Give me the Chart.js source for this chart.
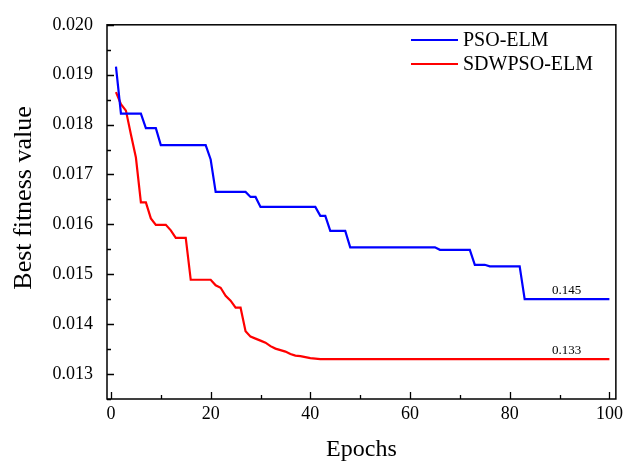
<!DOCTYPE html>
<html lang="en">
  <head>
    <meta charset="UTF-8">
    <title>Best fitness value vs Epochs</title>
    <script src="https://cdn.jsdelivr.net/npm/chart.js@4.4.7/dist/chart.umd.min.js"></script>
    <style>
    html, body {
      margin: 0;
      padding: 0;
      background: #fff;
    }
    #wrap {
      width: 627px;
      height: 463px;
    }
    </style>
  </head>
  <body>
    <div id="wrap"><canvas id="fitChart" width="627" height="463"></canvas></div>
    <script>
    // epochs 1..100
    const epochs = [];
    for (let i = 1; i <= 100; i++) epochs.push(i);

    const psoElm = [
      0.01916, 0.01822, 0.01822, 0.01822, 0.01822, 0.01822, 0.01793, 0.01793, 0.01793, 0.01759,
      0.01759, 0.01759, 0.01759, 0.01759, 0.01759, 0.01759, 0.01759, 0.01759, 0.01759, 0.01730,
      0.01665, 0.01665, 0.01665, 0.01665, 0.01665, 0.01665, 0.01665, 0.01655, 0.01655, 0.01635,
      0.01635, 0.01635, 0.01635, 0.01635, 0.01635, 0.01635, 0.01635, 0.01635, 0.01635, 0.01635,
      0.01635, 0.01617, 0.01617, 0.01587, 0.01587, 0.01587, 0.01587, 0.01554, 0.01554, 0.01554,
      0.01554, 0.01554, 0.01554, 0.01554, 0.01554, 0.01554, 0.01554, 0.01554, 0.01554, 0.01554,
      0.01554, 0.01554, 0.01554, 0.01554, 0.01554, 0.01549, 0.01549, 0.01549, 0.01549, 0.01549,
      0.01549, 0.01549, 0.01519, 0.01519, 0.01519, 0.01516, 0.01516, 0.01516, 0.01516, 0.01516,
      0.01516, 0.01516, 0.01450, 0.01450, 0.01450, 0.01450, 0.01450, 0.01450, 0.01450, 0.01450,
      0.01450, 0.01450, 0.01450, 0.01450, 0.01450, 0.01450, 0.01450, 0.01450, 0.01450, 0.01450
    ];

    const sdwpsoElm = [
      0.01865, 0.01841, 0.01828, 0.01780, 0.01734, 0.01644, 0.01644, 0.01612, 0.01599, 0.01599,
      0.01599, 0.01588, 0.01573, 0.01573, 0.01573, 0.01489, 0.01489, 0.01489, 0.01489, 0.01489,
      0.01478, 0.01473, 0.01457, 0.01447, 0.01433, 0.01433, 0.01386, 0.01375, 0.01371, 0.01367,
      0.01363, 0.01356, 0.01351, 0.01348, 0.01345, 0.01340, 0.01337, 0.01336, 0.01334, 0.01332,
      0.01331, 0.01330, 0.01330, 0.01330, 0.01330, 0.01330, 0.01330, 0.01330, 0.01330, 0.01330,
      0.01330, 0.01330, 0.01330, 0.01330, 0.01330, 0.01330, 0.01330, 0.01330, 0.01330, 0.01330,
      0.01330, 0.01330, 0.01330, 0.01330, 0.01330, 0.01330, 0.01330, 0.01330, 0.01330, 0.01330,
      0.01330, 0.01330, 0.01330, 0.01330, 0.01330, 0.01330, 0.01330, 0.01330, 0.01330, 0.01330,
      0.01330, 0.01330, 0.01330, 0.01330, 0.01330, 0.01330, 0.01330, 0.01330, 0.01330, 0.01330,
      0.01330, 0.01330, 0.01330, 0.01330, 0.01330, 0.01330, 0.01330, 0.01330, 0.01330, 0.01330
    ];

    const seriesNames = ['PSO-ELM', 'SDWPSO-ELM'];
    const endLabels = ['0.145', '0.133'];
    const endLabelEpoch = 91.4;
    const yTitle = 'Best fitness value';

    const serif = "'Liberation Serif', 'Times New Roman', serif";

    function isMajorY(v) {
      return Math.round(v * 2000) % 2 === 0;
    }

    // box, inward ticks, y title, legend and end labels
    const decorations = {
      id: 'decorations',
      afterDatasetsDraw(chart) {
        const { ctx, chartArea: a, scales: { x, y } } = chart;
        ctx.save();
        ctx.strokeStyle = '#000';
        ctx.lineWidth = 1.5;
        ctx.strokeRect(a.left, a.top, a.right - a.left, a.bottom - a.top);

        ctx.lineWidth = 1.3;
        ctx.beginPath();
        x.ticks.forEach((t) => {
          const px = Math.round(x.getPixelForValue(t.value)) + 0.5;
          const len = t.value % 20 === 0 ? 7 : 4;
          ctx.moveTo(px, a.bottom);
          ctx.lineTo(px, a.bottom - len);
        });
        y.ticks.forEach((t) => {
          const py = Math.round(y.getPixelForValue(t.value)) + 0.5;
          const len = isMajorY(t.value) ? 7 : 4;
          ctx.moveTo(a.left, py);
          ctx.lineTo(a.left + len, py);
        });
        ctx.stroke();

        // y axis title, sits a bit above the middle like the original
        ctx.fillStyle = '#000';
        ctx.font = '26px ' + serif;
        ctx.textAlign = 'center';
        ctx.textBaseline = 'middle';
        ctx.save();
        ctx.translate(24, 198);
        ctx.rotate(-Math.PI / 2);
        ctx.fillText(yTitle, 0, 0);
        ctx.restore();

        // legend
        ctx.font = '20px ' + serif;
        ctx.textBaseline = 'middle';
        ctx.textAlign = 'left';
        chart.data.datasets.forEach((ds, i) => {
          const ly = 40 + i * 24;
          ctx.strokeStyle = ds.borderColor;
          ctx.lineWidth = 2;
          ctx.beginPath();
          ctx.moveTo(411, ly);
          ctx.lineTo(458, ly);
          ctx.stroke();
          ctx.fillStyle = '#000';
          ctx.fillText(ds.label, 463, ly + 1);
        });

        // final value labels
        ctx.font = '13px ' + serif;
        ctx.textAlign = 'center';
        ctx.textBaseline = 'alphabetic';
        chart.data.datasets.forEach((ds, i) => {
          const last = ds.data[ds.data.length - 1];
          ctx.fillText(endLabels[i], x.getPixelForValue(endLabelEpoch), y.getPixelForValue(last) - 5);
        });
        ctx.restore();
      }
    };

    const ctx = document.getElementById('fitChart').getContext('2d');
    const fitChart = new Chart(ctx, {
      type: 'line',
      data: {
        labels: epochs,
        datasets: [
          {
            label: seriesNames[0],
            data: psoElm,
            borderColor: '#0000ff',
            borderWidth: 2.2,
            pointRadius: 0,
            tension: 0,
            fill: false
          },
          {
            label: seriesNames[1],
            data: sdwpsoElm,
            borderColor: '#ff0000',
            borderWidth: 2.2,
            pointRadius: 0,
            tension: 0,
            fill: false
          }
        ]
      },
      options: {
        responsive: false,
        animation: false,
        layout: {
          padding: { top: 18, right: 9, left: 0, bottom: 0 }
        },
        plugins: {
          legend: { display: false },
          tooltip: { enabled: false }
        },
        scales: {
          x: {
            type: 'linear',
            min: -0.8,
            max: 101.3,
            grid: { display: false, drawTicks: false },
            border: { display: false },
            ticks: {
              stepSize: 10,
              includeBounds: false,
              padding: 4,
              color: '#000',
              font: { family: serif, size: 18 },
              callback: (v) => (v % 20 === 0 ? String(v) : '')
            },
            title: {
              display: true,
              text: 'Epochs',
              color: '#000',
              font: { family: serif, size: 24, lineHeight: 1 },
              padding: { top: 0, bottom: 1 }
            },
            afterFit: (scale) => { scale.height = 64; }
          },
          y: {
            min: 0.0125,
            max: 0.020,
            grid: { display: false, drawTicks: false },
            border: { display: false },
            ticks: {
              stepSize: 0.0005,
              includeBounds: false,
              padding: 14,
              color: '#000',
              font: { family: serif, size: 18 },
              callback: (v) => (isMajorY(v) ? v.toFixed(3) : '')
            },
            title: { display: false },
            afterFit: (scale) => { scale.width = 107; }
          }
        }
      },
      plugins: [decorations]
    });
    </script>
  </body>
</html>
